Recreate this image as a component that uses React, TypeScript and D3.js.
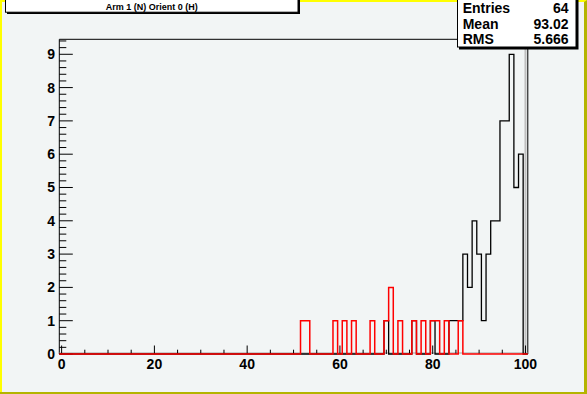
import { useEffect, useRef } from "react";
import * as d3 from "d3";

// bin centres (unit bins from -0.5 to 100.5) and their contents
const blackBins = [70, 76, 80, 84, 85, 86, 87, 88, 89, 90, 91, 92, 93, 94, 95, 96, 97, 98, 99];
const blackCounts = [1, 1, 1, 1, 1, 1, 3, 2, 4, 3, 1, 3, 4, 4, 7, 7, 9, 5, 6];
const redBins = [52, 53, 59, 61, 63, 67, 70, 71, 73, 76, 78, 80, 81, 83, 86];
const redCounts = [1, 1, 1, 1, 1, 1, 1, 2, 1, 1, 1, 1, 1, 1, 1];

const xTicks = [0, 20, 40, 60, 80, 100];
const yTicks = [0, 1, 2, 3, 4, 5, 6, 7, 8, 9];
const statNames = ["Entries", "Mean", "RMS"];
const statValues = ["64", "93.02", "5.666"];
const title = "Arm 1 (N) Orient 0 (H)";

const W = 587;
const H = 394;
const FONT = "'Liberation Sans', Arial, Helvetica, sans-serif";

function fullBins(bins: number[], counts: number[]) {
  const out: number[] = d3.range(0, 101).map(() => 0);
  bins.forEach((b, i) => (out[b] = counts[i]));
  return out;
}

function outline(values: number[]) {
  const pts: [number, number][] = [[-0.5, 0]];
  values.forEach((v, k) => {
    pts.push([k - 0.5, v]);
    pts.push([k + 0.5, v]);
  });
  pts.push([100.5, 0]);
  return pts;
}

export default function App() {
  const ref = useRef<SVGSVGElement | null>(null);

  useEffect(() => {
    document.body.style.margin = "0";
    const svg = d3.select(ref.current);
    svg.selectAll("*").remove();

    const x = d3.scaleLinear().domain([-0.5, 100.5]).range([59.3, 527.8]);
    const y = d3.scaleLinear().domain([0, 9.45]).range([354, 39.3]);

    // canvas with bevelled border
    svg.append("rect").attr("width", W).attr("height", H).attr("fill", "#f2f5f5");
    svg.append("path").attr("d", `M0,0H${W}V2H2V${H}H0Z`).attr("fill", "#ffff00");
    svg
      .append("path")
      .attr("d", `M${W},0V${H}H0V${H - 2}H${W - 3}V2Z`)
      .attr("fill", "#b4b400");

    // frame
    const [x0, x1] = x.range();
    const [yb, yt] = y.range();
    svg.append("line").attr("x1", x0).attr("x2", x1).attr("y1", yt).attr("y2", yt).attr("stroke", "#000");
    svg.append("line").attr("x1", x0).attr("x2", x0).attr("y1", yt).attr("y2", yb).attr("stroke", "#000");
    svg.append("line").attr("x1", x1).attr("x2", x1).attr("y1", yt).attr("y2", yb).attr("stroke", "#000");
    svg
      .append("line")
      .attr("x1", x(100))
      .attr("x2", x(100))
      .attr("y1", yt)
      .attr("y2", yb)
      .attr("stroke", "#c0c0c0")
      .attr("stroke-width", 2);
    svg
      .append("line")
      .attr("x1", x0)
      .attr("x2", x1)
      .attr("y1", yb - 1)
      .attr("y2", yb - 1)
      .attr("stroke", "#a0a0a0");

    // y ticks
    d3.range(0, 9.41, 0.2).forEach((v) => {
      const major = Math.abs(v - Math.round(v)) < 1e-6;
      svg
        .append("line")
        .attr("x1", x0)
        .attr("x2", x0 + (major ? 13.5 : 7))
        .attr("y1", y(v))
        .attr("y2", y(v))
        .attr("stroke", "#000");
    });
    yTicks.forEach((v) => {
      svg
        .append("text")
        .attr("x", 55)
        .attr("y", y(v) + 5)
        .attr("text-anchor", "end")
        .attr("font-family", FONT)
        .attr("font-weight", "bold")
        .attr("font-size", 14)
        .text(v);
    });

    // x ticks
    d3.range(0, 101, 5).forEach((v) => {
      const major = v % 20 === 0;
      svg
        .append("line")
        .attr("x1", x(v))
        .attr("x2", x(v))
        .attr("y1", yb)
        .attr("y2", yb - (major ? 8.5 : 4.3))
        .attr("stroke", "#000");
    });
    xTicks.forEach((v) => {
      svg
        .append("text")
        .attr("x", x(v))
        .attr("y", 368.7)
        .attr("text-anchor", "middle")
        .attr("font-family", FONT)
        .attr("font-weight", "bold")
        .attr("font-size", 14)
        .text(v);
    });

    const line = d3
      .line<[number, number]>()
      .x((d) => x(d[0]))
      .y((d) => y(d[1]));

    svg
      .append("path")
      .attr("d", line(outline(fullBins(blackBins, blackCounts))) ?? "")
      .attr("fill", "none")
      .attr("stroke", "#000")
      .attr("stroke-width", 1.3);

    svg
      .append("path")
      .attr("d", line(outline(fullBins(redBins, redCounts))) ?? "")
      .attr("fill", "none")
      .attr("stroke", "#ff0000")
      .attr("stroke-width", 1.5);

    // title box
    svg.append("rect").attr("x", 7).attr("y", -1).attr("width", 293).attr("height", 15).attr("fill", "#000");
    svg
      .append("rect")
      .attr("x", 5.5)
      .attr("y", -1)
      .attr("width", 292.5)
      .attr("height", 13.2)
      .attr("fill", "#fff")
      .attr("stroke", "#000");
    svg
      .append("text")
      .attr("x", 151.7)
      .attr("y", 10)
      .attr("text-anchor", "middle")
      .attr("font-family", FONT)
      .attr("font-weight", "bold")
      .attr("font-size", 9)
      .text(title);

    // stats box
    svg.append("rect").attr("x", 459).attr("y", -1).attr("width", 119.5).attr("height", 50.5).attr("fill", "#000");
    svg
      .append("rect")
      .attr("x", 457.5)
      .attr("y", -1)
      .attr("width", 118.5)
      .attr("height", 48)
      .attr("fill", "#fff")
      .attr("stroke", "#000");
    statNames.forEach((n, i) => {
      const by = 12.7 + i * 15.8;
      svg
        .append("text")
        .attr("x", 462.7)
        .attr("y", by)
        .attr("font-family", FONT)
        .attr("font-weight", "bold")
        .attr("font-size", 14)
        .text(n);
      svg
        .append("text")
        .attr("x", 568.5)
        .attr("y", by)
        .attr("text-anchor", "end")
        .attr("font-family", FONT)
        .attr("font-weight", "bold")
        .attr("font-size", 14)
        .text(statValues[i]);
    });
  }, []);

  return <svg ref={ref} width={W} height={H} style={{ display: "block" }} />;
}
